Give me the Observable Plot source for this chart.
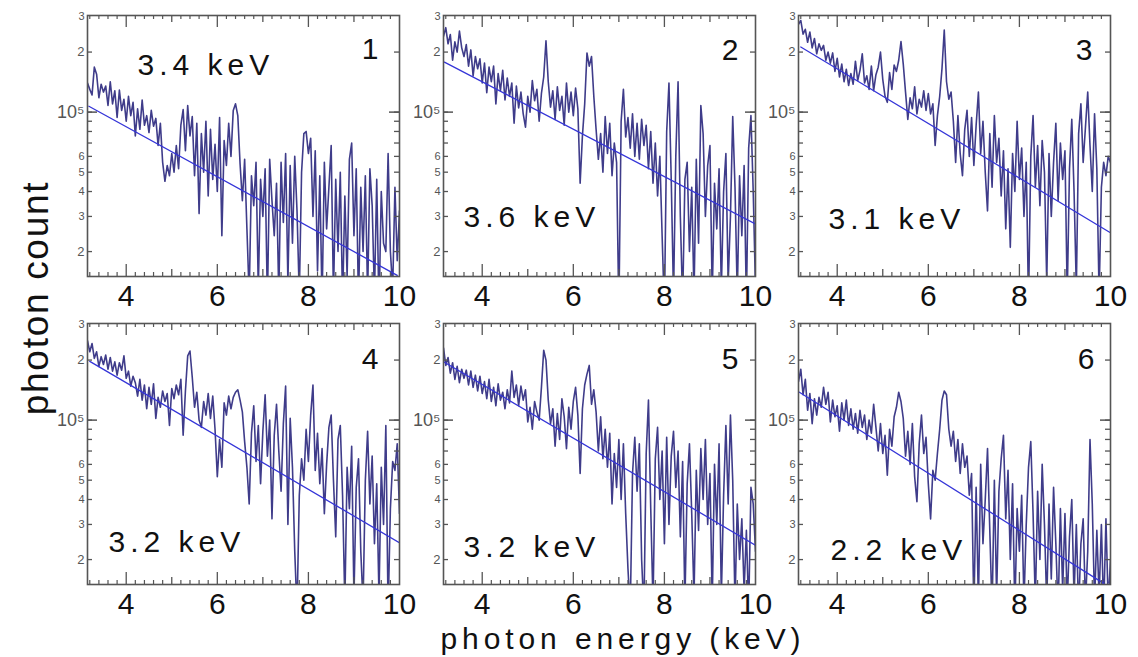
<!DOCTYPE html>
<html>
<head>
<meta charset="utf-8">
<script src="https://cdn.jsdelivr.net/npm/d3@7"></script>
<script src="https://cdn.jsdelivr.net/npm/@observablehq/plot@0.6"></script>
<style>
  html, body { margin: 0; padding: 0; background: #fff; }
  #wrap { position: relative; width: 1138px; height: 657px; overflow: hidden; font-family: "Liberation Sans", Arial, sans-serif; color: #111; }
  .panel { position: absolute; }
  .ttl { position: absolute; line-height: 0.9; white-space: nowrap; }
</style>
</head>
<body>
<div id="wrap"></div>
<script>
// ---------- data (photon counts in units of 10^4) ----------
const energy = [3.15,3.20,3.25,3.30,3.35,3.40,3.45,3.50,3.55,3.60,3.65,3.70,3.75,3.80,3.85,3.90,3.95,4.00,4.05,4.10,4.15,4.20,4.25,4.30,4.35,4.40,4.45,4.50,4.55,4.60,4.65,4.70,4.75,4.80,4.85,4.90,4.95,5.00,5.05,5.10,5.15,5.20,5.25,5.30,5.35,5.40,5.45,5.50,5.55,5.60,5.65,5.70,5.75,5.80,5.85,5.90,5.95,6.00,6.05,6.10,6.15,6.20,6.25,6.30,6.35,6.40,6.45,6.50,6.55,6.60,6.65,6.70,6.75,6.80,6.85,6.90,6.95,7.00,7.05,7.10,7.15,7.20,7.25,7.30,7.35,7.40,7.45,7.50,7.55,7.60,7.65,7.70,7.75,7.80,7.85,7.90,7.95,8.00,8.05,8.10,8.15,8.20,8.25,8.30,8.35,8.40,8.45,8.50,8.55,8.60,8.65,8.70,8.75,8.80,8.85,8.90,8.95,9.00,9.05,9.10,9.15,9.20,9.25,9.30,9.35,9.40,9.45,9.50,9.55,9.60,9.65,9.70,9.75,9.80,9.85,9.90,9.95,10.00];

const counts1 = [14.0,13.0,12.2,16.8,15.5,11.8,13.8,12.6,13.5,10.8,
 14.2,11.0,12.8,9.4,12.9,10.2,11.6,9.0,12.0,9.6,
 11.2,7.6,10.4,8.2,11.5,8.6,9.6,7.9,10.2,8.5,
 9.3,6.8,8.8,5.6,4.5,5.4,4.8,6.2,5.0,6.8,
 5.2,8.6,10.3,6.4,10.8,7.6,9.5,4.8,8.8,3.1,
 7.8,5.0,9.0,3.8,8.2,4.6,6.9,4.0,9.4,2.4,
 7.2,5.4,8.8,6.0,10.2,11.0,9.6,5.5,3.6,5.8,
 2.6,1.2,4.8,3.4,5.6,1.3,4.6,3.0,5.2,1.1,
 5.8,3.6,2.4,4.4,1.2,5.6,2.8,6.2,1.4,5.4,
 2.2,6.0,3.2,1.2,5.0,7.8,8.0,6.2,7.4,3.0,
 6.4,1.6,4.8,1.1,5.6,2.6,4.2,6.8,1.2,4.6,
 2.0,5.0,1.1,3.8,1.5,5.8,7.0,2.4,5.2,1.1,
 4.2,2.0,4.8,1.2,5.2,3.4,1.2,4.6,1.0,4.0,
 2.2,2.0,6.2,2.0,1.3,4.2,1.8,3.2];

const counts2 = [24.0,26.5,22.0,24.5,18.2,22.5,20.0,25.5,21.0,19.0,
 21.8,17.0,20.5,15.2,19.0,16.5,18.5,14.0,17.6,12.5,
 16.8,14.2,17.0,11.0,15.6,12.8,16.2,11.5,14.8,12.0,
 14.0,8.8,13.5,10.5,12.6,9.8,8.4,12.0,10.0,14.4,
 11.4,13.0,9.0,12.4,15.0,22.8,14.2,10.6,12.8,9.2,
 13.4,10.2,12.0,8.6,14.0,10.0,12.6,9.6,13.2,10.4,
 4.4,7.6,11.0,19.8,17.0,19.0,12.0,8.2,5.8,7.8,
 5.0,9.5,6.2,8.8,4.8,7.0,5.6,1.0,9.0,13.0,
 7.5,9.4,6.6,9.8,6.0,8.8,5.8,9.2,6.8,8.6,
 5.2,8.0,4.4,7.0,3.8,6.0,2.4,1.0,8.0,14.0,
 4.6,1.2,6.0,14.2,3.0,1.1,4.6,5.6,2.0,4.2,
 1.2,5.8,2.2,10.8,7.8,3.0,5.4,6.8,1.2,4.4,
 2.6,5.2,1.3,4.0,6.2,1.4,3.0,9.5,4.2,1.2,
 4.8,2.4,5.4,1.1,6.6,9.6,4.0,1.3];

const counts3 = [27.5,28.8,24.6,26.0,22.4,25.2,21.0,23.4,19.6,22.0,
 20.4,21.6,18.2,20.0,17.6,19.8,16.0,18.6,15.0,17.4,
 14.2,16.4,13.6,15.6,13.8,18.0,14.4,16.2,19.6,14.0,
 15.2,13.0,17.0,12.8,15.4,16.8,20.0,14.6,12.0,11.2,
 15.8,13.0,17.2,16.0,18.2,22.6,17.4,12.6,9.2,11.8,
 10.4,13.4,9.8,11.6,10.6,12.8,10.2,12.4,9.8,11.0,
 6.8,9.6,12.0,16.5,25.8,14.2,11.6,12.6,9.0,5.6,
 9.6,6.2,4.8,8.2,10.2,6.0,9.4,5.4,8.6,12.6,
 6.2,9.0,5.0,3.2,7.8,4.2,9.6,5.6,7.4,3.8,
 6.4,2.6,5.2,2.1,6.2,4.0,9.0,4.6,6.6,3.0,
 5.6,1.1,6.0,9.6,4.2,6.8,3.4,7.2,5.0,1.4,
 6.2,3.0,5.6,8.8,3.6,7.0,4.6,6.4,1.2,5.2,
 9.2,4.0,1.3,7.8,11.0,5.6,8.4,12.6,6.8,4.0,
 9.8,5.2,1.2,4.2,5.6,4.8,6.0,5.6];

const counts4 = [25.0,22.0,24.2,20.4,22.0,18.6,20.8,19.0,21.2,18.0,
 20.6,17.6,19.6,16.8,19.4,17.8,21.0,16.2,17.6,14.8,
 16.6,15.4,13.2,16.0,12.6,15.0,11.4,14.6,12.0,15.2,
 10.2,13.0,11.6,14.0,12.4,13.6,9.4,14.4,12.8,15.0,
 13.4,16.0,8.4,14.0,21.0,22.2,16.4,11.6,13.8,10.0,
 9.2,12.4,10.6,13.6,10.2,13.2,9.0,5.2,8.0,5.8,
 12.2,10.6,13.2,11.4,13.0,13.8,14.2,12.6,11.0,7.8,
 5.8,3.8,8.6,11.8,6.2,9.4,4.8,8.8,13.4,6.6,
 10.0,3.2,8.4,12.0,7.0,4.4,9.6,14.8,3.0,10.2,
 5.8,2.2,1.1,4.2,6.4,5.0,9.0,6.2,10.6,15.0,
 5.6,8.6,4.8,7.2,3.4,6.0,9.2,10.6,5.0,2.6,
 8.0,9.4,4.2,1.2,5.8,3.6,7.4,1.3,4.6,6.4,
 2.2,1.2,5.0,8.8,3.8,6.6,2.4,4.8,1.3,5.8,
 3.0,9.4,1.1,3.6,6.2,5.6,7.6,3.4];

const counts5 = [23.0,18.8,20.6,17.2,19.4,16.0,18.6,15.4,18.0,16.2,
 17.8,15.0,17.6,14.6,16.8,14.0,16.6,13.6,15.6,12.8,
 16.0,12.4,14.6,11.8,15.2,12.6,13.8,11.4,14.2,12.2,
 17.6,13.0,15.0,11.8,14.8,12.6,14.2,9.8,11.6,9.0,
 12.4,11.0,10.0,14.6,22.4,20.0,12.6,9.6,11.4,7.4,
 10.8,8.0,12.8,10.4,7.2,11.6,9.0,12.4,14.6,10.6,
 5.4,11.4,15.0,17.0,18.8,12.0,14.2,11.0,7.0,10.4,
 6.4,9.0,5.8,8.6,3.8,6.8,4.6,8.0,4.0,7.6,
 3.4,1.8,1.1,5.4,8.2,4.4,7.6,2.0,1.1,6.8,
 12.6,3.6,1.2,6.4,9.2,4.0,7.0,2.4,8.2,3.0,
 6.6,8.8,4.6,7.0,2.6,6.2,1.2,4.8,7.6,3.4,
 1.3,5.6,2.8,7.2,4.0,8.0,3.0,5.4,1.2,6.0,
 3.0,7.6,1.3,4.2,9.4,3.8,10.6,5.0,1.2,3.8,
 2.0,3.2,1.4,2.8,1.1,4.6,3.8,2.2];

const counts6 = [15.6,18.0,13.4,16.0,11.2,13.6,9.6,12.8,10.6,13.0,
 11.6,14.6,12.0,13.8,9.8,12.6,10.4,11.8,8.8,12.2,
 10.0,12.6,9.4,11.4,9.0,10.8,8.6,11.2,9.2,10.6,
 8.0,10.0,8.6,12.0,9.2,7.0,9.6,6.8,8.4,5.3,
 9.0,7.4,10.4,11.6,13.8,12.4,10.2,6.6,8.8,6.0,
 9.6,5.2,3.9,7.6,10.6,6.8,8.2,4.8,3.2,5.6,
 5.0,6.8,9.0,12.6,14.0,13.4,9.0,7.4,8.8,6.2,
 8.0,5.4,7.6,5.8,6.6,4.2,5.4,1.1,4.6,1.2,
 6.0,2.4,4.0,7.2,2.8,1.1,5.0,1.3,4.4,6.4,
 8.4,3.2,5.6,2.0,4.8,1.1,3.6,2.2,4.2,1.2,
 3.0,5.8,7.8,3.4,1.2,4.4,2.0,6.0,3.0,1.2,
 3.8,1.6,4.6,2.4,1.1,3.6,1.4,3.4,1.2,2.6,
 4.0,1.3,3.0,1.1,2.4,3.2,1.2,2.2,8.0,3.8,
 1.2,2.8,1.3,3.0,1.1,3.2,1.2,2.0];

// exponential fits: [start energy, start count], [end energy, end count] (counts in 10^4)
const fitStartEnergy = [3.18, 3.17, 3.20, 3.20, 3.17, 3.17];
const fitStartCount  = [10.7, 17.8, 21.2, 19.7, 19.5, 13.8];
const fitEndEnergy   = [9.95, 10.0, 9.98, 10.0, 10.0, 9.85];
const fitEndCount    = [1.52, 2.75, 2.50, 2.43, 2.36, 1.52];

const temperatureLabels = ["3.4 keV", "3.6 keV", "3.1 keV", "3.2 keV", "3.2 keV", "2.2 keV"];
const panelNumbers = ["1", "2", "3", "4", "5", "6"];

const xTickLabels = [4, 6, 8, 10];
const xTickMid = [5, 7, 9];
const xMinorStep = 0.2;
const yTickValues = [2e4, 3e4, 4e4, 5e4, 6e4, 7e4, 8e4, 9e4, 1e5, 2e5, 3e5];
const yTickLabels = ["2", "3", "4", "5", "6", "", "", "", "10\u2075", "2", "3"];

const xTitle = "photon energy (keV)";
const yTitle = "photon count";
const UNIT = 1e4;

const allCounts = [counts1, counts2, counts3, counts4, counts5, counts6];

// ---------- layout ----------
const frameW = 312, frameH = 261;
const mL = 45, mR = 25, mT = 10, mB = 45;
const frameLefts = [87, 443, 798];
const frameTops = [15, 323];
const kevOffsets = [[50, 38], [20, 190], [30, 192], [21, 207], [20, 212], [32, 215]];
const numOffsets = [[-21, 22], [-17, 23], [-18, 23], [-21, 24], [-17, 24], [-16, 24]];

const dataColor = "#3f3c8a";
const fitColor = "#3535d8";
const axisColor = "#555";

const minorTicks = d3.range(Math.round((10 - 3.2) / xMinorStep) + 1).map(i => +(3.2 + i * xMinorStep).toFixed(2))
  .filter(v => !xTickLabels.includes(v) && !xTickMid.includes(v));
const yTicks = yTickValues.map((v, i) => ({v, label: yTickLabels[i]}));

const wrap = document.getElementById("wrap");

for (let p = 0; p < 6; p++) {
  const series = energy.map((e, i) => ({e, c: allCounts[p][i] * UNIT}));
  const fit = [
    {e: fitStartEnergy[p], c: fitStartCount[p] * UNIT},
    {e: fitEndEnergy[p], c: fitEndCount[p] * UNIT}
  ];
  const plot = Plot.plot({
    width: frameW + mL + mR,
    height: frameH + mT + mB,
    marginLeft: mL, marginRight: mR, marginTop: mT, marginBottom: mB,
    style: {background: "transparent", overflow: "visible", fontFamily: "'Liberation Sans', Arial, sans-serif"},
    x: {domain: [3.15, 10], label: null},
    y: {type: "log", domain: [1.5e4, 3.05e5], axis: null, label: null},
    marks: [
      Plot.line(series, {x: "e", y: "c", stroke: dataColor, strokeWidth: 1.6, clip: true}),
      Plot.line(fit, {x: "e", y: "c", stroke: fitColor, strokeWidth: 1.3, clip: true}),
      Plot.ruleX(xTickLabels.filter(v => v < 10), {x: d => d, insetTop: frameH - 12, stroke: axisColor, strokeWidth: 1.3}),
      Plot.ruleX(xTickLabels.filter(v => v < 10), {x: d => d, insetBottom: frameH - 12, stroke: axisColor, strokeWidth: 1.3}),
      Plot.ruleX(xTickMid, {x: d => d, insetTop: frameH - 7, stroke: axisColor, strokeWidth: 1.3}),
      Plot.ruleX(xTickMid, {x: d => d, insetBottom: frameH - 7, stroke: axisColor, strokeWidth: 1.3}),
      Plot.ruleX(minorTicks, {x: d => d, insetTop: frameH - 4, stroke: axisColor, strokeWidth: 1.2}),
      Plot.ruleX(minorTicks, {x: d => d, insetBottom: frameH - 4, stroke: axisColor, strokeWidth: 1.2}),
      Plot.ruleY(yTickValues.filter(v => v < 3e5), {y: d => d, insetRight: frameW - 5, stroke: axisColor, strokeWidth: 1.3}),
      Plot.ruleY(yTickValues.filter(v => v < 3e5), {y: d => d, insetLeft: frameW - 5, stroke: axisColor, strokeWidth: 1.3}),
      Plot.ruleY([1e5], {y: d => d, insetRight: frameW - 10, stroke: axisColor, strokeWidth: 1.5}),
      Plot.ruleY([1e5], {y: d => d, insetLeft: frameW - 10, stroke: axisColor, strokeWidth: 1.5}),
      Plot.frame({stroke: axisColor, strokeWidth: 1.6}),
      Plot.text(yTicks.filter(d => d.label), {
        y: "v", text: "label", frameAnchor: "left", textAnchor: "end", dx: -3,
        fontSize: d => d.v === 1e5 ? 18 : (d.label === "2" ? 13 : 11), fill: "#555"
      }),
      Plot.axisX({ticks: xTickLabels, tickSize: 0, tickPadding: 8, fontSize: 30, tickFormat: d => String(d), color: "#111", label: null}),
      Plot.text([temperatureLabels[p]], {
        frameAnchor: "top-left", textAnchor: "start", lineAnchor: "top",
        dx: kevOffsets[p][0], dy: kevOffsets[p][1], fontSize: 30, fill: "#111"
      }),
      Plot.text([panelNumbers[p]], {
        frameAnchor: "top-right", textAnchor: "end", lineAnchor: "top",
        dx: numOffsets[p][0], dy: numOffsets[p][1], fontSize: 30, fill: "#111"
      })
    ]
  });
  plot.querySelectorAll("text").forEach(t => {
    if (t.textContent.includes("keV")) t.style.letterSpacing = "5px";
  });
  const div = document.createElement("div");
  div.className = "panel";
  div.style.left = (frameLefts[p % 3] - mL) + "px";
  div.style.top = (frameTops[Math.floor(p / 3)] - mT) + "px";
  div.appendChild(plot);
  wrap.appendChild(div);
}

const xt = document.createElement("div");
xt.className = "ttl";
xt.textContent = xTitle;
xt.style.fontSize = "30px";
xt.style.letterSpacing = "4.9px";
xt.style.left = "623px";
xt.style.top = "625px";
xt.style.transform = "translateX(-50%)";
wrap.appendChild(xt);

const yt = document.createElement("div");
yt.className = "ttl";
yt.textContent = yTitle;
yt.style.fontSize = "37px";
yt.style.letterSpacing = "1.7px";
yt.style.left = "36px";
yt.style.top = "298px";
yt.style.transform = "translate(-50%, -50%) rotate(-90deg)";
wrap.appendChild(yt);
</script>
</body>
</html>
